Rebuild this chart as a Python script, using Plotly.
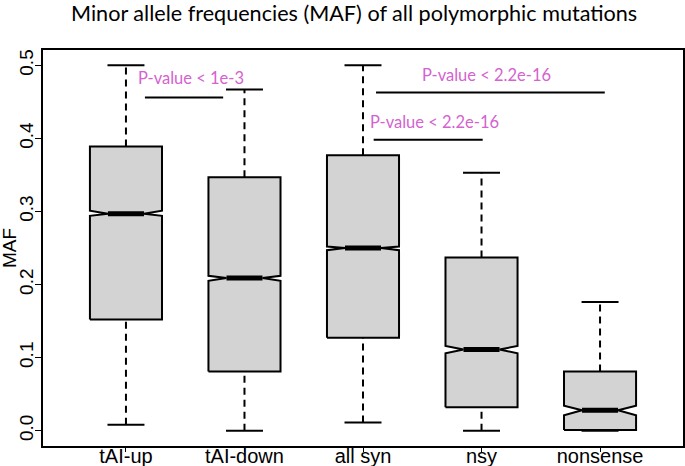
import plotly.graph_objects as go

categories = ["tAI-up", "tAI-down", "all syn", "nsy", "nonsense"]
whisker_lo = [0.008, 0.0, 0.011, 0.0, 0.0]
q1 = [0.152, 0.081, 0.127, 0.032, 0.001]
notch_lo = [0.294, 0.205, 0.247, 0.106, 0.021]
median = [0.297, 0.209, 0.250, 0.111, 0.028]
notch_hi = [0.301, 0.212, 0.252, 0.116, 0.034]
q3 = [0.389, 0.347, 0.377, 0.237, 0.081]
whisker_hi = [0.5, 0.467, 0.5, 0.353, 0.176]

y_ticks = [0.0, 0.1, 0.2, 0.3, 0.4, 0.5]
y_ticklabels = ["0.0", "0.1", "0.2", "0.3", "0.4", "0.5"]

# p-value brackets: (x0, x1, y, label, label_x, label_y)
pvals = [
    (1.16, 1.82, 0.456, "P-value < 1e-3", 1.55, 0.483),
    (3.11, 5.04, 0.463, "P-value < 2.2e-16", 4.04, 0.487),
    (3.09, 4.01, 0.398, "P-value < 2.2e-16", 3.60, 0.423),
]

hw = 0.304   # box half width
cw = 0.156   # staple half width
pink = "#d462cf"

fig = go.Figure()
for i, cat in enumerate(categories):
    c = i + 1
    # whiskers (dashed)
    for a, b in [(q3[i], whisker_hi[i]), (whisker_lo[i], q1[i])]:
        fig.add_scatter(x=[c, c], y=[a, b], mode="lines",
                        line=dict(color="black", width=2, dash="7px,5px"),
                        hoverinfo="skip", showlegend=False)
    # staples
    for v in [whisker_lo[i], whisker_hi[i]]:
        fig.add_scatter(x=[c - cw, c + cw], y=[v, v], mode="lines",
                        line=dict(color="black", width=2),
                        hoverinfo="skip", showlegend=False)
    # notched box
    fx = [-1, -1, -0.5, -1, -1, 1, 1, 0.5, 1, 1, -1]
    fy = [q1[i], notch_lo[i], median[i], notch_hi[i], q3[i], q3[i],
          notch_hi[i], median[i], notch_lo[i], q1[i], q1[i]]
    fig.add_scatter(x=[c + hw * f for f in fx], y=fy, mode="lines",
                    fill="toself", fillcolor="#d3d3d3",
                    line=dict(color="black", width=2),
                    name=cat, showlegend=False)
    # median bar
    fig.add_scatter(x=[c - hw / 2, c + hw / 2], y=[median[i], median[i]],
                    mode="lines", line=dict(color="black", width=5),
                    hoverinfo="skip", showlegend=False)

for x0, x1, yv, lab, lx, ly in pvals:
    fig.add_shape(type="line", x0=x0, x1=x1, y0=yv, y1=yv,
                  xref="x", yref="y", line=dict(color="black", width=2))
    fig.add_annotation(x=lx, y=ly, text=lab, showarrow=False,
                       xref="x", yref="y",
                       font=dict(family="Lato", size=16.5, color=pink))

fig.add_annotation(x=-0.053, y=0.5, xref="paper", yref="paper", text="MAF",
                   textangle=-90, showarrow=False, xanchor="center", yanchor="middle",
                   font=dict(family="Liberation Sans", size=19, color="black"))

fig.update_layout(
    width=685,
    height=466,
    template="none",
    plot_bgcolor="white",
    paper_bgcolor="white",
    margin=dict(l=43, r=2, t=50, b=20),
    font=dict(family="Liberation Sans", size=19, color="black"),
    title=dict(text="Minor allele frequencies (MAF) of all polymorphic mutations",
               x=0.517, xanchor="center", y=1 - 13 / 466, yanchor="middle",
               font=dict(family="Lato", size=21.6, color="black")),
)
fig.update_xaxes(range=[0.3, 5.7], tickvals=[1, 2, 3, 4, 5], ticktext=categories,
                 tickfont=dict(size=20), ticklabelstandoff=-13,
                 showline=True, mirror=True, linecolor="black", linewidth=2,
                 ticks="outside", ticklen=4, tickcolor="black",
                 showgrid=False, zeroline=False, automargin=False)
fig.update_yaxes(range=[-0.021, 0.521], tickvals=y_ticks, ticktext=y_ticklabels,
                 tickangle=-90, ticklabelstandoff=-6,
                 showline=True, mirror=True, linecolor="black",
                 linewidth=2, ticks="outside", ticklen=6, tickcolor="black",
                 showgrid=False, zeroline=False, automargin=False)

fig.write_html("out.html", config={"displayModeBar": False},
               post_script="document.body.style.margin='0';")
